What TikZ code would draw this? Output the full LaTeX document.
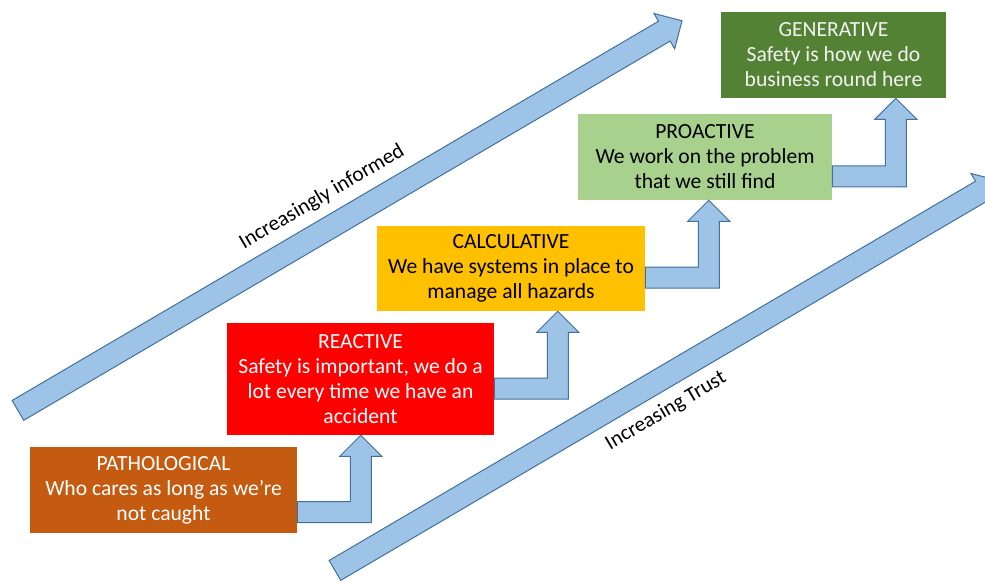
\documentclass[tikz,border=0pt]{standalone}
\usepackage{fontspec}
\setmainfont{Carlito}
\usetikzlibrary{shapes.arrows,calc}

\definecolor{pathocol}{HTML}{C55A11}
\definecolor{reactcol}{HTML}{FF0000}
\definecolor{calccol}{HTML}{FFC000}
\definecolor{proactcol}{HTML}{A9D18E}
\definecolor{genercol}{HTML}{548235}
\definecolor{arrowfill}{HTML}{9DC3E6}
\definecolor{arrowline}{HTML}{41719C}

\tikzset{
    stage/.style={align=center, inner sep=0pt, font=\fontsize{16.2}{18.75}\selectfont},
    bigarrow/.style={single arrow, draw=arrowline, fill=arrowfill, line width=0.75pt,
        inner xsep=0pt, inner ysep=8.25pt, single arrow head extend=6.75pt,
        minimum height=577.5pt, rotate=30.4},
    steparrow/.style={draw=arrowline, fill=arrowfill, line width=0.75pt, line join=miter},
    slanted/.style={rotate=30.4, font=\fontsize{16}{18.75}\selectfont}
}

% bar from the right side of #1 at height #3, turning up into the bottom of #2
\newcommand{\stepup}[3]{%
    \draw[steparrow] let \p1 = (#1.east |- 0,#3), \p2 = (#2.south) in
        (\x1,\y1-7.875pt) -- (\x1+55.5pt,\y1-7.875pt) -- (\x1+55.5pt,\y2-15.75pt)
        -- (\x1+63.375pt,\y2-15.75pt) -- (\x1+47.625pt,\y2) -- (\x1+31.875pt,\y2-15.75pt)
        -- (\x1+39.75pt,\y2-15.75pt) -- (\x1+39.75pt,\y1+7.875pt) -- (\x1,\y1+7.875pt) -- cycle;
}

\begin{document}
\begin{tikzpicture}[x=0.75pt, y=-0.75pt]
                \clip (0,0) rectangle (985,581);

                \node[bigarrow] (informed) at (345,218.5) {};
                \node[bigarrow] (trust) at (662,378.5) {};
                \node[slanted] (informedtext) at (322,197) {Increasingly informed};
                \node[slanted] (trusttext) at (666,411) {Increasing Trust};

                \node[stage, fill=pathocol, text=white, minimum width=200.25pt, minimum height=64.5pt] (patho) at (163.5,490)
                    {PATHOLOGICAL\\Who cares as long as we’re\\not caught};
                \node[stage, fill=reactcol, text=white, minimum width=200.25pt, minimum height=84pt] (react) at (360.5,379)
                    {REACTIVE\\Safety is important, we do a\\lot every time we have an\\accident};
                \node[stage, fill=calccol, text=black, minimum width=201pt, minimum height=63.75pt] (calcul) at (511,268.5)
                    {CALCULATIVE\\We have systems in place to\\manage all hazards};
                \node[stage, fill=proactcol, text=black, minimum width=190.5pt, minimum height=64.5pt] (proact) at (705,157)
                    {PROACTIVE\\We work on the problem\\that we still find};
                \node[stage, fill=genercol, text=white!95!black, minimum width=168.75pt, minimum height=64.5pt] (gener) at (833.5,55)
                    {GENERATIVE\\Safety is how we do\\business round here};

                \stepup{patho}{react}{512}
                \stepup{react}{calcul}{388.5}
                \stepup{calcul}{proact}{277.5}
                \stepup{proact}{gener}{176.5}
\end{tikzpicture}
\end{document}
